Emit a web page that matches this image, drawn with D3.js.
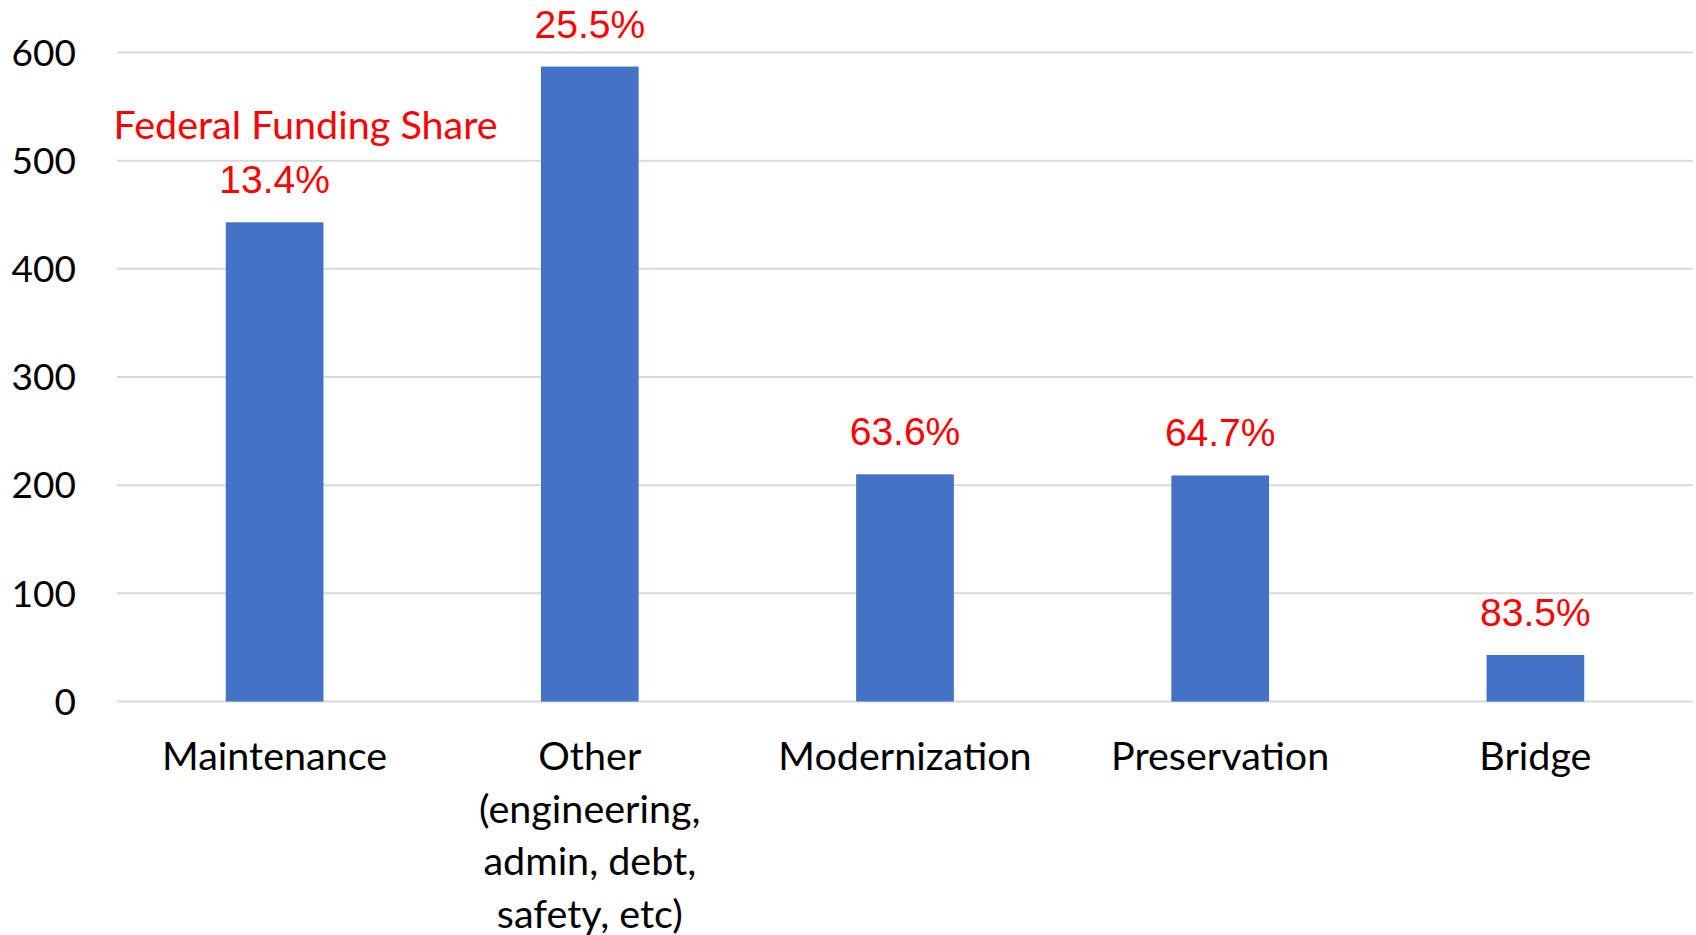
<!DOCTYPE html>
<html>
<head>
<meta charset="utf-8">
<script src="https://cdn.jsdelivr.net/npm/d3@7"></script>
<style>
  body { margin: 0; background: #fff; }
  svg { display: block; }
</style>
</head>
<body>
<svg id="chart" width="1696" height="935"></svg>
<script>
// data
const categories = ["Maintenance", "Other", "Modernization", "Preservation", "Bridge"];
const categoryLines = [
  ["Maintenance"],
  ["Other", "(engineering,", "admin, debt,", "safety, etc)"],
  ["Modernization"],
  ["Preservation"],
  ["Bridge"]
];
const spending = [443, 587, 210, 209, 43];
const federalShare = ["13.4%", "25.5%", "63.6%", "64.7%", "83.5%"];
const yTicks = [0, 100, 200, 300, 400, 500, 600];

const svg = d3.select("#chart");
const labelFont = "Lato, 'Open Sans', sans-serif";

const x = d3.scaleBand()
  .domain(categories)
  .range([117, 1693])
  .paddingInner(0.69)
  .paddingOuter(0.345);

const y = d3.scaleLinear()
  .domain([0, 600])
  .range([701.5, 52.5]);

// gridlines
svg.append("g")
  .selectAll("line")
  .data(yTicks)
  .join("line")
  .attr("x1", 117).attr("x2", 1693)
  .attr("y1", d => y(d)).attr("y2", d => y(d))
  .attr("stroke", "#d9d9d9")
  .attr("stroke-width", 2);

// y tick labels
svg.append("g")
  .selectAll("text")
  .data(yTicks)
  .join("text")
  .attr("x", 76)
  .attr("y", d => y(d))
  .attr("dy", "0.36em")
  .attr("text-anchor", "end")
  .style("font-family", labelFont)
  .style("font-size", "37px")
  .attr("fill", "#000")
  .text(d => d);

// bars
svg.append("g")
  .selectAll("rect")
  .data(spending)
  .join("rect")
  .attr("x", (d, i) => x(categories[i]))
  .attr("y", d => y(d))
  .attr("width", x.bandwidth())
  .attr("height", d => y(0) - y(d))
  .attr("fill", "#4472c4");

// federal share labels
svg.append("g")
  .selectAll("text")
  .data(federalShare)
  .join("text")
  .attr("x", (d, i) => x(categories[i]) + x.bandwidth() / 2)
  .attr("y", (d, i) => y(spending[i]) - 29)
  .attr("text-anchor", "middle")
  .style("font-family", "'Liberation Sans', Arial, sans-serif")
  .style("font-size", "39px")
  .attr("fill", "#ff0000")
  .text(d => d);

svg.append("text")
  .attr("x", x("Maintenance") + x.bandwidth() / 2 + 31)
  .attr("y", 139)
  .attr("text-anchor", "middle")
  .style("font-family", labelFont)
  .style("font-size", "39.5px")
  .attr("fill", "#ff0000")
  .text("Federal Funding Share");

// category labels
const xLabels = svg.append("g")
  .selectAll("text")
  .data(categoryLines)
  .join("text")
  .attr("text-anchor", "middle")
  .style("font-family", labelFont)
  .style("font-size", "39.5px")
  .attr("fill", "#000");

xLabels.selectAll("tspan")
  .data((lines, i) => lines.map(t => ({ t, c: categories[i] })))
  .join("tspan")
  .attr("x", d => x(d.c) + x.bandwidth() / 2)
  .attr("y", (d, j) => 770 + j * 52.7)
  .text(d => d.t);
</script>
</body>
</html>
